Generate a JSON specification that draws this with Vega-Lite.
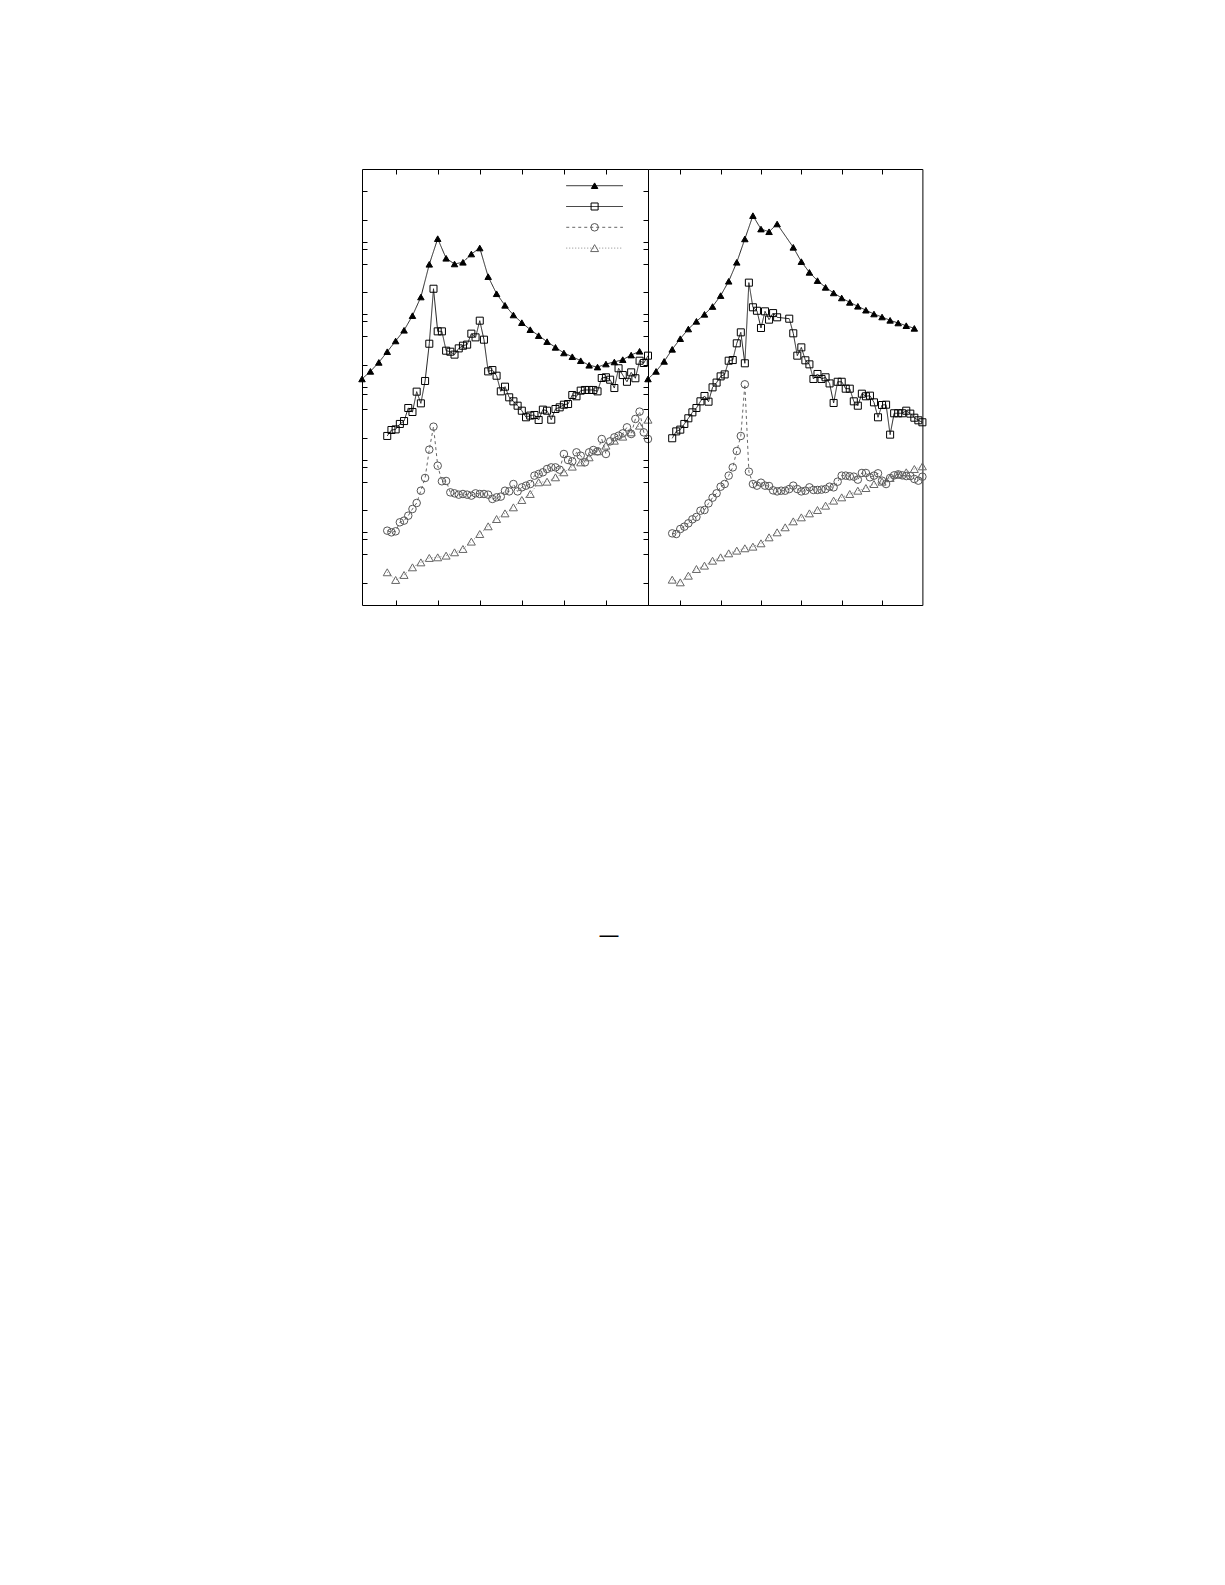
{
  "$schema": "https://vega.github.io/schema/vega-lite/v6.json",
  "usermeta": {"embedOptions": {"actions": false}},
  "background": "white",
  "padding": {"left": 356, "top": 168, "right": 5, "bottom": 5},
  "spacing": 0,
  "bounds": "flush",
  "title": {"text": "—", "orient": "bottom", "anchor": "middle", "dx": -33.6, "offset": 336, "fontSize": 21, "font": "DejaVu Sans", "fontWeight": "normal", "color": "black", "baseline": "alphabetic"},
  "config": {
    "view": {"stroke": "black", "strokeWidth": 1},
    "axis": {"labels": false, "domain": false, "grid": false, "ticks": true, "tickSize": -5, "tickColor": "black", "tickWidth": 1, "title": null, "minExtent": 0, "maxExtent": 0, "offset": 0},
    "legend": {"orient": "none", "legendX": 226.6, "legendY": 10.7, "title": null, "labelFontSize": 12, "labelOpacity": 0, "rowPadding": 8.8, "padding": 0, "symbolStrokeWidth": 1, "symbolOpacity": 1}
  },
  "datasets": {
    "left": [
      {"s":"A","x":0.2,"y":1.29},{"s":"A","x":0.4,"y":1.64},{"s":"A","x":0.6,"y":2.18},{"s":"A","x":0.8,"y":3.06},{"s":"A","x":1.0,"y":4.30},{"s":"A","x":1.2,"y":6.03},{"s":"A","x":1.4,"y":9.59},{"s":"A","x":1.6,"y":17.3},{"s":"A","x":1.8,"y":48.8},{"s":"A","x":2.0,"y":110},{"s":"A","x":2.2,"y":59.0},{"s":"A","x":2.4,"y":49.3},{"s":"A","x":2.6,"y":52.0},{"s":"A","x":2.8,"y":67.6},{"s":"A","x":3.0,"y":81.8},{"s":"A","x":3.2,"y":33.0},{"s":"A","x":3.4,"y":19.2},{"s":"A","x":3.6,"y":13.3},{"s":"A","x":3.8,"y":9.79},{"s":"A","x":4.0,"y":7.68},{"s":"A","x":4.2,"y":6.15},{"s":"A","x":4.4,"y":5.09},{"s":"A","x":4.6,"y":4.21},{"s":"A","x":4.8,"y":3.51},{"s":"A","x":5.0,"y":2.94},{"s":"A","x":5.2,"y":2.61},{"s":"A","x":5.4,"y":2.30},{"s":"A","x":5.6,"y":1.99},{"s":"A","x":5.8,"y":1.88},{"s":"A","x":6.0,"y":2.07},{"s":"A","x":6.2,"y":2.21},{"s":"A","x":6.4,"y":2.38},{"s":"A","x":6.6,"y":2.75},{"s":"A","x":6.8,"y":3.10},
      {"s":"B","x":0.8,"y":0.212},{"s":"B","x":0.9,"y":0.256},{"s":"B","x":1.0,"y":0.261},{"s":"B","x":1.1,"y":0.310},{"s":"B","x":1.2,"y":0.340},{"s":"B","x":1.3,"y":0.514},{"s":"B","x":1.4,"y":0.453},{"s":"B","x":1.5,"y":0.863},{"s":"B","x":1.6,"y":0.596},{"s":"B","x":1.7,"y":1.21},{"s":"B","x":1.8,"y":3.94},{"s":"B","x":1.9,"y":22.5},{"s":"B","x":2.0,"y":5.83},{"s":"B","x":2.1,"y":5.83},{"s":"B","x":2.2,"y":3.16},{"s":"B","x":2.3,"y":3.06},{"s":"B","x":2.4,"y":2.79},{"s":"B","x":2.5,"y":3.40},{"s":"B","x":2.6,"y":3.70},{"s":"B","x":2.7,"y":3.83},{"s":"B","x":2.8,"y":5.42},{"s":"B","x":2.9,"y":4.82},{"s":"B","x":3.0,"y":8.18},{"s":"B","x":3.1,"y":4.48},{"s":"B","x":3.2,"y":1.64},{"s":"B","x":3.3,"y":1.71},{"s":"B","x":3.4,"y":1.43},{"s":"B","x":3.5,"y":0.871},{"s":"B","x":3.6,"y":1.01},{"s":"B","x":3.7,"y":0.721},{"s":"B","x":3.8,"y":0.635},{"s":"B","x":3.9,"y":0.553},{"s":"B","x":4.0,"y":0.472},{"s":"B","x":4.1,"y":0.383},{"s":"B","x":4.2,"y":0.404},{"s":"B","x":4.3,"y":0.412},{"s":"B","x":4.4,"y":0.352},{"s":"B","x":4.5,"y":0.488},{"s":"B","x":4.6,"y":0.472},{"s":"B","x":4.7,"y":0.355},{"s":"B","x":4.8,"y":0.498},{"s":"B","x":4.9,"y":0.525},{"s":"B","x":5.0,"y":0.571},{"s":"B","x":5.1,"y":0.583},{"s":"B","x":5.2,"y":0.776},{"s":"B","x":5.3,"y":0.745},{"s":"B","x":5.4,"y":0.891},{"s":"B","x":5.5,"y":0.910},{"s":"B","x":5.6,"y":0.910},{"s":"B","x":5.7,"y":0.910},{"s":"B","x":5.8,"y":0.871},{"s":"B","x":5.9,"y":1.33},{"s":"B","x":6.0,"y":1.36},{"s":"B","x":6.1,"y":1.26},{"s":"B","x":6.2,"y":0.968},{"s":"B","x":6.3,"y":1.81},{"s":"B","x":6.4,"y":1.46},{"s":"B","x":6.5,"y":1.18},{"s":"B","x":6.6,"y":1.59},{"s":"B","x":6.7,"y":1.32},{"s":"B","x":6.8,"y":2.30},{"s":"B","x":6.9,"y":2.14},{"s":"B","x":7.0,"y":2.70},
      {"s":"C","x":0.8,"y":0.01054},{"s":"C","x":0.9,"y":0.0100},{"s":"C","x":1.0,"y":0.01033},{"s":"C","x":1.1,"y":0.01374},{"s":"C","x":1.2,"y":0.01449},{"s":"C","x":1.3,"y":0.01695},{"s":"C","x":1.4,"y":0.02094},{"s":"C","x":1.5,"y":0.02535},{"s":"C","x":1.6,"y":0.03742},{"s":"C","x":1.7,"y":0.05598},{"s":"C","x":1.8,"y":0.1374},{"s":"C","x":1.9,"y":0.2844},{"s":"C","x":2.0,"y":0.0826},{"s":"C","x":2.1,"y":0.0504},{"s":"C","x":2.2,"y":0.0509},{"s":"C","x":2.3,"y":0.0355},{"s":"C","x":2.4,"y":0.0344},{"s":"C","x":2.5,"y":0.0330},{"s":"C","x":2.6,"y":0.0337},{"s":"C","x":2.7,"y":0.0330},{"s":"C","x":2.8,"y":0.0320},{"s":"C","x":2.9,"y":0.0344},{"s":"C","x":3.0,"y":0.0337},{"s":"C","x":3.1,"y":0.0337},{"s":"C","x":3.2,"y":0.0330},{"s":"C","x":3.3,"y":0.0288},{"s":"C","x":3.4,"y":0.0303},{"s":"C","x":3.5,"y":0.0310},{"s":"C","x":3.6,"y":0.0374},{"s":"C","x":3.7,"y":0.0366},{"s":"C","x":3.8,"y":0.0462},{"s":"C","x":3.9,"y":0.0366},{"s":"C","x":4.0,"y":0.0416},{"s":"C","x":4.1,"y":0.0439},{"s":"C","x":4.2,"y":0.0462},{"s":"C","x":4.3,"y":0.0603},{"s":"C","x":4.4,"y":0.0635},{"s":"C","x":4.5,"y":0.0670},{"s":"C","x":4.6,"y":0.0744},{"s":"C","x":4.7,"y":0.0783},{"s":"C","x":4.8,"y":0.0783},{"s":"C","x":4.9,"y":0.0728},{"s":"C","x":5.0,"y":0.1197},{"s":"C","x":5.1,"y":0.0989},{"s":"C","x":5.2,"y":0.0948},{"s":"C","x":5.3,"y":0.1262},{"s":"C","x":5.4,"y":0.1135},{"s":"C","x":5.5,"y":0.0918},{"s":"C","x":5.6,"y":0.1262},{"s":"C","x":5.7,"y":0.1358},{"s":"C","x":5.8,"y":0.1303},{"s":"C","x":5.9,"y":0.1923},{"s":"C","x":6.0,"y":0.1197},{"s":"C","x":6.1,"y":0.1786},{"s":"C","x":6.2,"y":0.2028},{"s":"C","x":6.3,"y":0.2138},{"s":"C","x":6.4,"y":0.2301},{"s":"C","x":6.5,"y":0.2786},{"s":"C","x":6.6,"y":0.2254},{"s":"C","x":6.7,"y":0.3631},{"s":"C","x":6.8,"y":0.4581},{"s":"C","x":6.9,"y":0.2377},{"s":"C","x":7.0,"y":0.1923},
      {"s":"D","x":0.8,"y":0.00282},{"s":"D","x":1.0,"y":0.00221},{"s":"D","x":1.2,"y":0.00259},{"s":"D","x":1.4,"y":0.00330},{"s":"D","x":1.6,"y":0.00386},{"s":"D","x":1.8,"y":0.00444},{"s":"D","x":2.0,"y":0.00453},{"s":"D","x":2.2,"y":0.00478},{"s":"D","x":2.4,"y":0.00531},{"s":"D","x":2.6,"y":0.00590},{"s":"D","x":2.8,"y":0.00745},{"s":"D","x":3.0,"y":0.00948},{"s":"D","x":3.2,"y":0.0121},{"s":"D","x":3.4,"y":0.01524},{"s":"D","x":3.6,"y":0.01824},{"s":"D","x":3.8,"y":0.02208},{"s":"D","x":4.0,"y":0.02786},{"s":"D","x":4.2,"y":0.03373},{"s":"D","x":4.4,"y":0.04877},{"s":"D","x":4.6,"y":0.04977},{"s":"D","x":4.8,"y":0.05715},{"s":"D","x":5.0,"y":0.0670},{"s":"D","x":5.2,"y":0.0802},{"s":"D","x":5.4,"y":0.0918},{"s":"D","x":5.6,"y":0.1077},{"s":"D","x":5.8,"y":0.1303},{"s":"D","x":6.0,"y":0.1560},{"s":"D","x":6.2,"y":0.1825},{"s":"D","x":6.4,"y":0.2075},{"s":"D","x":6.6,"y":0.2377},{"s":"D","x":6.8,"y":0.2938},{"s":"D","x":7.0,"y":0.3551}
    ],
    "right": [
      {"s":"A","x":0.2,"y":1.29},{"s":"A","x":0.4,"y":1.64},{"s":"A","x":0.6,"y":2.25},{"s":"A","x":0.8,"y":3.30},{"s":"A","x":1.0,"y":4.62},{"s":"A","x":1.2,"y":6.28},{"s":"A","x":1.4,"y":8.01},{"s":"A","x":1.6,"y":10.0},{"s":"A","x":1.8,"y":12.8},{"s":"A","x":2.0,"y":18.1},{"s":"A","x":2.2,"y":28.5},{"s":"A","x":2.4,"y":52.0},{"s":"A","x":2.6,"y":109},{"s":"A","x":2.8,"y":228},{"s":"A","x":3.0,"y":149},{"s":"A","x":3.2,"y":137},{"s":"A","x":3.4,"y":175},{"s":"A","x":3.8,"y":83.6},{"s":"A","x":4.0,"y":53.1},{"s":"A","x":4.2,"y":37.8},{"s":"A","x":4.4,"y":29.1},{"s":"A","x":4.6,"y":23.5},{"s":"A","x":4.8,"y":19.7},{"s":"A","x":5.0,"y":16.8},{"s":"A","x":5.2,"y":14.6},{"s":"A","x":5.4,"y":12.9},{"s":"A","x":5.6,"y":11.4},{"s":"A","x":5.8,"y":10.1},{"s":"A","x":6.0,"y":9.19},{"s":"A","x":6.2,"y":8.27},{"s":"A","x":6.4,"y":7.60},{"s":"A","x":6.6,"y":6.98},{"s":"A","x":6.8,"y":6.41},
      {"s":"B","x":0.8,"y":0.197},{"s":"B","x":0.9,"y":0.245},{"s":"B","x":1.0,"y":0.259},{"s":"B","x":1.1,"y":0.310},{"s":"B","x":1.2,"y":0.371},{"s":"B","x":1.3,"y":0.448},{"s":"B","x":1.4,"y":0.514},{"s":"B","x":1.5,"y":0.635},{"s":"B","x":1.6,"y":0.752},{"s":"B","x":1.7,"y":0.628},{"s":"B","x":1.8,"y":0.989},{"s":"B","x":1.9,"y":1.15},{"s":"B","x":2.0,"y":1.40},{"s":"B","x":2.1,"y":1.49},{"s":"B","x":2.2,"y":2.30},{"s":"B","x":2.3,"y":2.35},{"s":"B","x":2.4,"y":3.99},{"s":"B","x":2.5,"y":5.65},{"s":"B","x":2.6,"y":2.12},{"s":"B","x":2.7,"y":27.3},{"s":"B","x":2.8,"y":12.5},{"s":"B","x":2.9,"y":11.2},{"s":"B","x":3.0,"y":6.49},{"s":"B","x":3.1,"y":11.0},{"s":"B","x":3.2,"y":8.45},{"s":"B","x":3.3,"y":10.4},{"s":"B","x":3.4,"y":9.10},{"s":"B","x":3.7,"y":8.71},{"s":"B","x":3.8,"y":5.48},{"s":"B","x":3.9,"y":2.70},{"s":"B","x":4.0,"y":3.51},{"s":"B","x":4.1,"y":2.33},{"s":"B","x":4.2,"y":2.05},{"s":"B","x":4.3,"y":1.29},{"s":"B","x":4.4,"y":1.51},{"s":"B","x":4.5,"y":1.29},{"s":"B","x":4.6,"y":1.36},{"s":"B","x":4.7,"y":1.12},{"s":"B","x":4.8,"y":0.603},{"s":"B","x":4.9,"y":1.18},{"s":"B","x":5.0,"y":1.18},{"s":"B","x":5.1,"y":0.948},{"s":"B","x":5.2,"y":0.948},{"s":"B","x":5.3,"y":0.635},{"s":"B","x":5.4,"y":0.553},{"s":"B","x":5.5,"y":0.809},{"s":"B","x":5.6,"y":0.745},{"s":"B","x":5.7,"y":0.760},{"s":"B","x":5.8,"y":0.615},{"s":"B","x":5.9,"y":0.383},{"s":"B","x":6.0,"y":0.565},{"s":"B","x":6.1,"y":0.571},{"s":"B","x":6.2,"y":0.221},{"s":"B","x":6.3,"y":0.435},{"s":"B","x":6.4,"y":0.435},{"s":"B","x":6.5,"y":0.435},{"s":"B","x":6.6,"y":0.472},{"s":"B","x":6.7,"y":0.430},{"s":"B","x":6.8,"y":0.378},{"s":"B","x":6.9,"y":0.348},{"s":"B","x":7.0,"y":0.327},
      {"s":"C","x":0.8,"y":0.00968},{"s":"C","x":0.9,"y":0.00948},{"s":"C","x":1.0,"y":0.01111},{"s":"C","x":1.1,"y":0.01197},{"s":"C","x":1.2,"y":0.0133},{"s":"C","x":1.3,"y":0.0151},{"s":"C","x":1.4,"y":0.01626},{"s":"C","x":1.5,"y":0.01986},{"s":"C","x":1.6,"y":0.02028},{"s":"C","x":1.7,"y":0.02506},{"s":"C","x":1.8,"y":0.02999},{"s":"C","x":1.9,"y":0.03443},{"s":"C","x":2.0,"y":0.04246},{"s":"C","x":2.1,"y":0.04624},{"s":"C","x":2.2,"y":0.0603},{"s":"C","x":2.3,"y":0.0783},{"s":"C","x":2.4,"y":0.1315},{"s":"C","x":2.5,"y":0.2118},{"s":"C","x":2.6,"y":1.089},{"s":"C","x":2.7,"y":0.0684},{"s":"C","x":2.8,"y":0.0462},{"s":"C","x":2.9,"y":0.0439},{"s":"C","x":3.0,"y":0.0482},{"s":"C","x":3.1,"y":0.0439},{"s":"C","x":3.2,"y":0.0434},{"s":"C","x":3.3,"y":0.0378},{"s":"C","x":3.4,"y":0.0366},{"s":"C","x":3.5,"y":0.0374},{"s":"C","x":3.6,"y":0.0374},{"s":"C","x":3.7,"y":0.0394},{"s":"C","x":3.8,"y":0.0439},{"s":"C","x":3.9,"y":0.0394},{"s":"C","x":4.0,"y":0.0366},{"s":"C","x":4.1,"y":0.0374},{"s":"C","x":4.2,"y":0.0416},{"s":"C","x":4.3,"y":0.0383},{"s":"C","x":4.4,"y":0.0383},{"s":"C","x":4.5,"y":0.0387},{"s":"C","x":4.6,"y":0.0394},{"s":"C","x":4.7,"y":0.0425},{"s":"C","x":4.8,"y":0.0416},{"s":"C","x":4.9,"y":0.0498},{"s":"C","x":5.0,"y":0.0603},{"s":"C","x":5.1,"y":0.0603},{"s":"C","x":5.2,"y":0.0590},{"s":"C","x":5.3,"y":0.0584},{"s":"C","x":5.4,"y":0.0531},{"s":"C","x":5.5,"y":0.0656},{"s":"C","x":5.6,"y":0.0656},{"s":"C","x":5.7,"y":0.0572},{"s":"C","x":5.8,"y":0.0603},{"s":"C","x":5.9,"y":0.0649},{"s":"C","x":6.0,"y":0.0514},{"s":"C","x":6.1,"y":0.0462},{"s":"C","x":6.2,"y":0.0560},{"s":"C","x":6.3,"y":0.0608},{"s":"C","x":6.4,"y":0.0628},{"s":"C","x":6.5,"y":0.0608},{"s":"C","x":6.6,"y":0.0595},{"s":"C","x":6.7,"y":0.0595},{"s":"C","x":6.8,"y":0.0542},{"s":"C","x":6.9,"y":0.0514},{"s":"C","x":7.0,"y":0.0583},
      {"s":"D","x":0.8,"y":0.00223},{"s":"D","x":1.0,"y":0.00205},{"s":"D","x":1.2,"y":0.00253},{"s":"D","x":1.4,"y":0.00313},{"s":"D","x":1.6,"y":0.00348},{"s":"D","x":1.8,"y":0.00407},{"s":"D","x":2.0,"y":0.00453},{"s":"D","x":2.2,"y":0.00514},{"s":"D","x":2.4,"y":0.0056},{"s":"D","x":2.6,"y":0.00603},{"s":"D","x":2.8,"y":0.00635},{"s":"D","x":3.0,"y":0.00706},{"s":"D","x":3.2,"y":0.00853},{"s":"D","x":3.4,"y":0.0100},{"s":"D","x":3.6,"y":0.01172},{"s":"D","x":3.8,"y":0.01416},{"s":"D","x":4.0,"y":0.01607},{"s":"D","x":4.2,"y":0.01824},{"s":"D","x":4.4,"y":0.02028},{"s":"D","x":4.6,"y":0.02328},{"s":"D","x":4.8,"y":0.02729},{"s":"D","x":5.0,"y":0.0303},{"s":"D","x":5.2,"y":0.0337},{"s":"D","x":5.4,"y":0.0374},{"s":"D","x":5.6,"y":0.0407},{"s":"D","x":5.8,"y":0.0462},{"s":"D","x":6.0,"y":0.0498},{"s":"D","x":6.2,"y":0.0560},{"s":"D","x":6.4,"y":0.0622},{"s":"D","x":6.6,"y":0.0670},{"s":"D","x":6.8,"y":0.0744},{"s":"D","x":7.0,"y":0.0809}
    ]
  },
  "hconcat": [
    {
      "width": 286,
      "height": 436,
      "data": {"name": "left"},
      "layer": [
        {
          "mark": {"type": "line", "strokeWidth": 1},
          "encoding": {
            "x": {"field": "x", "type": "quantitative", "scale": {"domain": [0.2, 7], "nice": false, "zero": false}, "axis": {"orient": "bottom", "values": [1, 2, 3, 4, 5, 6]}},
            "y": {"field": "y", "type": "quantitative", "scale": {"type": "log", "domain": [0.001, 1000], "nice": false}, "axis": {"orient": "left", "values": [0.002, 0.005, 0.008, 0.01, 0.02, 0.05, 0.08, 0.1, 0.2, 0.5, 0.8, 1, 2, 5, 8, 10, 20, 50, 80, 100, 200, 500]}},
            "color": {"field": "s", "type": "nominal", "scale": {"domain": ["A", "B", "C", "D"], "range": ["#222222", "#222222", "#666666", "#888888"]},
              "legend": {"symbolType": "M-8.1,0L8.1,0", "symbolSize": 49, "labelExpr": "''", "labelOpacity": 0}},
            "strokeDash": {"field": "s", "type": "nominal", "scale": {"domain": ["A", "B", "C", "D"], "range": [[1, 0], [1, 0], [3, 3], [1, 2]]},
              "legend": {"symbolType": "M-8.1,0L8.1,0", "symbolSize": 49, "labelExpr": "''", "labelOpacity": 0}}
          }
        },
        {
          "mark": {"type": "point", "filled": true, "strokeWidth": 1, "opacity": 1},
          "encoding": {
            "x": {"field": "x", "type": "quantitative", "scale": {"domain": [0.2, 7], "nice": false, "zero": false}, "axis": {"orient": "top", "values": [1, 2, 3, 4, 5, 6]}},
            "y": {"field": "y", "type": "quantitative", "scale": {"type": "log", "domain": [0.001, 1000], "nice": false}, "axis": {"orient": "right", "values": [0.002, 0.005, 0.008, 0.01, 0.02, 0.05, 0.08, 0.1, 0.2, 0.5, 0.8, 1, 2, 5, 8, 10, 20, 50, 80, 100, 200, 500]}},
            "shape": {"field": "s", "type": "nominal", "scale": {"domain": ["A", "B", "C", "D"], "range": ["triangle-up", "square", "circle", "triangle-up"]}, "legend": {"labelExpr": "''", "labelOpacity": 0}},
            "fill": {"field": "s", "type": "nominal", "scale": {"domain": ["A", "B", "C", "D"], "range": ["black", "transparent", "transparent", "transparent"]}, "legend": {"labelExpr": "''", "labelOpacity": 0}},
            "stroke": {"field": "s", "type": "nominal", "scale": {"domain": ["A", "B", "C", "D"], "range": ["black", "black", "#555555", "#666666"]}, "legend": {"labelExpr": "''", "labelOpacity": 0}},
            "size": {"field": "s", "type": "ordinal", "scale": {"domain": ["A", "B", "C", "D"], "range": [42, 64, 49, 49]}, "legend": {"labelExpr": "''", "labelOpacity": 0}}
          }
        }
      ],
      "resolve": {"axis": {"x": "independent", "y": "independent"}, "legend": {"shape": "independent", "fill": "independent", "stroke": "independent", "size": "independent", "color": "independent", "strokeDash": "independent"}}
    },
    {
      "width": 274.4,
      "height": 436,
      "data": {"name": "right"},
      "layer": [
        {
          "mark": {"type": "line", "strokeWidth": 1},
          "encoding": {
            "x": {"field": "x", "type": "quantitative", "scale": {"domain": [0.2, 7], "nice": false, "zero": false}, "axis": {"orient": "bottom", "values": [1, 2, 3, 4, 5, 6]}},
            "y": {"field": "y", "type": "quantitative", "scale": {"type": "log", "domain": [0.001, 1000], "nice": false}, "axis": null},
            "color": {"field": "s", "type": "nominal", "scale": {"domain": ["A", "B", "C", "D"], "range": ["#222222", "#222222", "#666666", "#888888"]}, "legend": null},
            "strokeDash": {"field": "s", "type": "nominal", "scale": {"domain": ["A", "B", "C", "D"], "range": [[1, 0], [1, 0], [3, 3], [1, 2]]}, "legend": null}
          }
        },
        {
          "mark": {"type": "point", "filled": true, "strokeWidth": 1, "opacity": 1},
          "encoding": {
            "x": {"field": "x", "type": "quantitative", "scale": {"domain": [0.2, 7], "nice": false, "zero": false}, "axis": {"orient": "top", "values": [1, 2, 3, 4, 5, 6]}},
            "y": {"field": "y", "type": "quantitative", "scale": {"type": "log", "domain": [0.001, 1000], "nice": false}, "axis": null},
            "shape": {"field": "s", "type": "nominal", "scale": {"domain": ["A", "B", "C", "D"], "range": ["triangle-up", "square", "circle", "triangle-up"]}, "legend": null},
            "fill": {"field": "s", "type": "nominal", "scale": {"domain": ["A", "B", "C", "D"], "range": ["black", "transparent", "transparent", "transparent"]}, "legend": null},
            "stroke": {"field": "s", "type": "nominal", "scale": {"domain": ["A", "B", "C", "D"], "range": ["black", "black", "#555555", "#666666"]}, "legend": null},
            "size": {"field": "s", "type": "ordinal", "scale": {"domain": ["A", "B", "C", "D"], "range": [42, 64, 49, 49]}, "legend": null}
          }
        }
      ],
      "resolve": {"axis": {"x": "independent"}}
    }
  ]
}
